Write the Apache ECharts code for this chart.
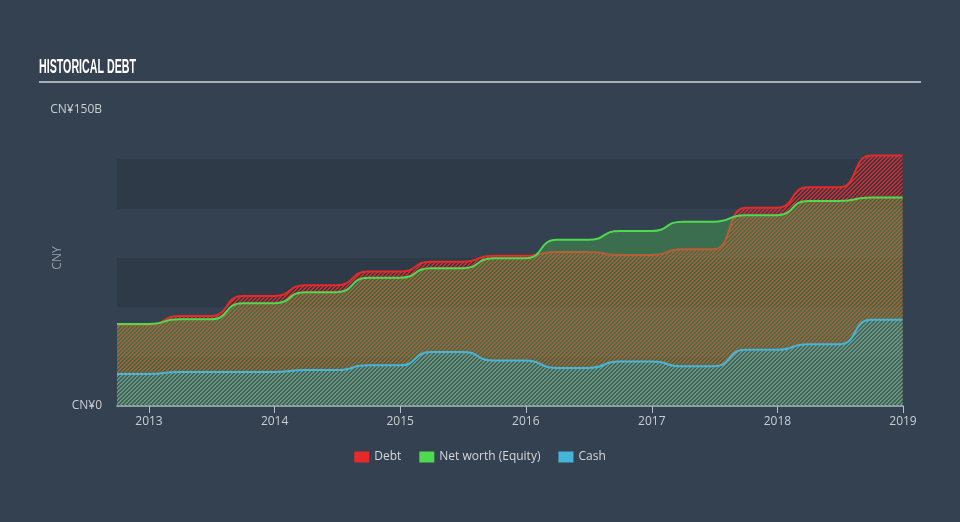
<!DOCTYPE html>
<html>
<head>
<meta charset="utf-8">
<script src="https://cdn.jsdelivr.net/npm/echarts@6/dist/echarts.min.js"></script>
<style>
html,body{margin:0;padding:0;background:#344150;}
#c{width:960px;height:522px;}
</style>
</head>
<body>
<div id="c"></div>
<script>
// ---- data (CN¥ billions) ----
const dates = ['2012-09-30','2012-12-31','2013-03-31','2013-06-30','2013-09-30','2013-12-31',
  '2014-03-31','2014-06-30','2014-09-30','2014-12-31','2015-03-31','2015-06-30','2015-09-30','2015-12-31',
  '2016-03-31','2016-06-30','2016-09-30','2016-12-31','2017-03-31','2017-06-30','2017-09-30','2017-12-31',
  '2018-03-31','2018-06-30','2018-09-30','2018-12-31'];
const debt = [41.2,41.2,45.6,45.6,55.8,55.8,61.2,61.2,68.1,68.1,73.1,73.1,76.2,76.2,
  78.0,78.0,76.5,76.5,79.4,79.4,100.5,100.5,110.8,110.8,126.9,126.9];
const equity = [41.6,41.6,43.9,43.9,52.1,52.1,57.7,57.7,65.0,65.0,69.8,69.8,74.9,74.9,
  84.2,84.2,88.7,88.7,93.4,93.4,96.7,96.7,103.9,103.9,105.6,105.6];
const cash = [16.2,16.2,17.2,17.2,17.2,17.2,18.2,18.2,20.6,20.6,27.4,27.4,23.0,23.0,
  19.3,19.3,22.5,22.5,20.1,20.1,28.5,28.5,31.3,31.3,43.7,43.7];
const seriesNames = ['Debt','Net worth (Equity)','Cash'];
const yTickLabels = {0:'CN¥0', 150:'CN¥150B'};

function hatch(r,g,b,a){
  const n=4, cv=document.createElement('canvas'); cv.width=n; cv.height=n;
  const ctx=cv.getContext('2d'); const img=ctx.createImageData(n,n);
  for(let y=0;y<n;y++)for(let x=0;x<n;x++){
    const k=(x+y)%n; const i=(y*n+x)*4;
    if(k===0||k===1){img.data[i]=r;img.data[i+1]=g;img.data[i+2]=b;img.data[i+3]=Math.round(a*255);}
  }
  ctx.putImageData(img,0,0);
  return {image:cv,repeat:'repeat'};
}
function pairs(vals){return dates.map((d,i)=>[d,vals[i]]);}

// title width fit
const titleText='HISTORICAL DEBT';
const titleFont='bold 20px "Liberation Sans", Arial, sans-serif';
const mc=document.createElement('canvas').getContext('2d'); mc.font=titleFont;
const titleScale=97/mc.measureText(titleText).width;

const chart=echarts.init(document.getElementById('c'),null,{renderer:'canvas'});
const common={type:'line',smooth:0.6,smoothMonotone:'x',showSymbol:false,symbol:'none'};
chart.setOption({
  backgroundColor:'#344150',
  animation:false,
  textStyle:{fontFamily:'"Open Sans"'},
  graphic:[
    {type:'text',x:39,y:67.5,scaleX:titleScale,style:{text:titleText,font:titleFont,fill:'#ffffff',verticalAlign:'middle'}},
    {type:'line',shape:{x1:39,y1:82,x2:921,y2:82},style:{stroke:'#a7aeb6',lineWidth:2}}
  ],
  grid:{left:117,right:57,top:110,bottom:116},
  legend:{
    data:seriesNames,bottom:54,left:'center',icon:'rect',itemWidth:15,itemHeight:11,itemGap:18,
    textStyle:{color:'#d3d7db',fontSize:12,fontFamily:'"Open Sans"'}
  },
  xAxis:{
    type:'time',min:'2012-09-30',max:'2019-01-01',
    minInterval:365*86400000,maxInterval:366*86400000,
    axisLine:{lineStyle:{color:'#b4bfca',width:1.5}},
    axisTick:{show:true,length:7,lineStyle:{color:'#b4bfca'}},
    axisLabel:{color:'#c9ced3',fontSize:12,margin:10,showMaxLabel:true,
      formatter:v=>String(new Date(v).getFullYear())},
    splitLine:{show:false}
  },
  yAxis:{
    type:'value',min:0,max:150,interval:25,
    name:'CNY',nameLocation:'middle',nameGap:53,nameMoveOverlap:false,
    nameTextStyle:{color:'#9aa3ac',fontSize:12},
    axisLine:{show:false},axisTick:{show:false},
    axisLabel:{color:'#c9ced3',fontSize:12,margin:15,
      formatter:v=>yTickLabels[v]!==undefined?yTickLabels[v]:''},
    splitLine:{show:false},
    splitArea:{show:true,areaStyle:{color:['#2e3a48','rgba(0,0,0,0)']}}
  },
  series:[
    Object.assign({},common,{name:'Debt',data:pairs(debt),z:2,
      itemStyle:{color:'#e52a2a'},lineStyle:{color:'#e52a2a',width:2},
      areaStyle:{color:hatch(229,42,42,0.92),opacity:1}}),
    Object.assign({},common,{name:'Net worth (Equity)',data:pairs(equity),z:3,
      itemStyle:{color:'#4fd94f'},lineStyle:{color:'#4fd94f',width:2},
      areaStyle:{color:'rgba(76,215,76,0.3)',opacity:1}}),
    Object.assign({},common,{name:'Cash',data:pairs(cash),z:4,
      itemStyle:{color:'#45b5da'},lineStyle:{color:'#45b5da',width:2},
      areaStyle:{color:hatch(69,181,218,0.55),opacity:1}})
  ]
});
</script>
</body>
</html>
